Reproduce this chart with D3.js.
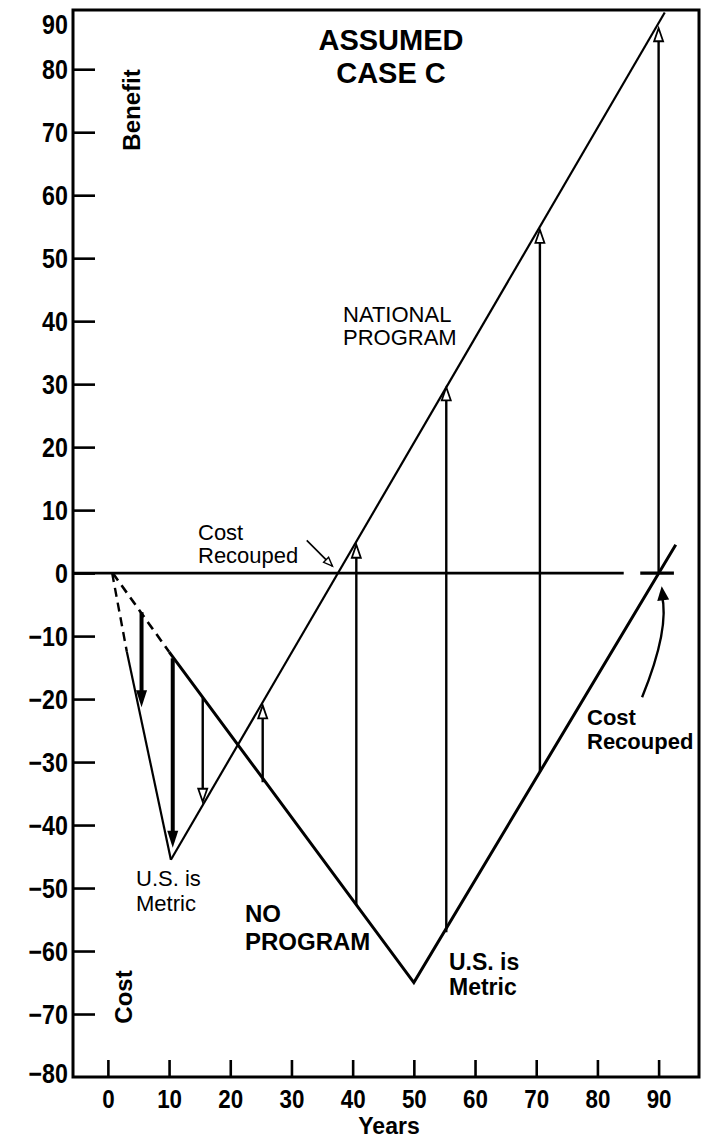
<!DOCTYPE html>
<html><head><meta charset="utf-8">
<script src="https://cdn.jsdelivr.net/npm/d3@7"></script>
<style>
html,body{margin:0;padding:0;background:#fff;}
svg{display:block;}
text{font-family:"Liberation Sans",Arial,Helvetica,sans-serif;fill:#000;}
</style></head>
<body>
<script>
// ---------- data ----------
const yTickValues = [-80,-70,-60,-50,-40,-30,-20,-10,0,10,20,30,40,50,60,70,80,90];
const xTickValues = [0,10,20,30,40,50,60,70,80,90];
const xDomain = [-5.7, 96.6];
const yDomain = [-80, 89.4];

// No program path (years, cost/benefit)
const noProgramDashed = [[0.8,0],[10,-12.5]];
const noProgramSolid  = [[10,-12.5],[50,-65],[92.8,4.5]];
// National program path
const nationalDashed = [[0.7,0],[3.1,-12.5]];
const nationalSteep  = [[3.1,-12.5],[10.3,-45.5]];
const nationalRise   = [[10.3,-45.5],[91,89]];

// Zero line pieces [fromYear, toYear]
const zeroLine = [[-5.7,84.3],[87,92.5]];

// Arrows: year, start value, tip value
const heavyArrows = [[5.5,-6.2,-21.3],[10.6,-13.5,-43.6]];
const lightArrows = [[15.5,-19.8,-36.3],[25.3,-33.2,-21],[40.6,-52.7,4.5],[55.3,-57,29.5],[70.6,-31.5,54.5],[90,0,86.5]];

// Annotation pointers
const recoupPointer = [[32.5,5.2],[36.7,1.1]];
const recoupCurve = [[87.3,-19.7],[91.9,-8.7],[90.5,-2.1]];

// Texts
const titleLines = ["ASSUMED","CASE C"];
const nationalLabel = ["NATIONAL","PROGRAM"];
const noProgramLabel = ["NO","PROGRAM"];
const metricLabel = ["U.S. is","Metric"];
const recoupLabel = ["Cost","Recouped"];

// ---------- drawing ----------
const W = 708, H = 1141;
const svg = d3.select("body").append("svg").attr("width",W).attr("height",H);

const x = d3.scaleLinear().domain(xDomain).range([73,699]);
const y = d3.scaleLinear().domain(yDomain).range([1077,10]);

const line = d3.line().x(d=>x(d[0])).y(d=>y(d[1]));

// frame
svg.append("rect").attr("x",x.range()[0]).attr("y",y.range()[1])
  .attr("width",x.range()[1]-x.range()[0]).attr("height",y.range()[0]-y.range()[1])
  .attr("fill","none").attr("stroke","#000").attr("stroke-width",3);

// y axis
const fmt = d => d<0 ? "\u2212"+Math.abs(d) : String(d);
const yAxis = d3.axisLeft(y).tickValues(yTickValues).tickFormat(fmt)
  .tickSizeInner(-22).tickSizeOuter(0).tickPadding(6);
const gy = svg.append("g").attr("transform",`translate(${x.range()[0]},0)`).call(yAxis);
gy.select(".domain").remove();
gy.selectAll(".tick line").attr("stroke","#000").attr("stroke-width",2.6)
  .attr("display",d=>(d===90||d===-80)?"none":null);
gy.selectAll(".tick text").attr("font-size",27).attr("font-weight","bold")
  .attr("transform","scale(0.86,1)")
  .attr("dy",d=>d===90?"1.0em":d===-80?"0.2em":"0.36em");

// x axis
const xAxis = d3.axisBottom(x).tickValues(xTickValues).tickFormat(fmt)
  .tickSizeInner(-17).tickSizeOuter(0).tickPadding(13);
const gx = svg.append("g").attr("transform",`translate(0,${y.range()[0]})`).call(xAxis);
gx.select(".domain").remove();
gx.selectAll(".tick line").attr("stroke","#000").attr("stroke-width",2.6);
gx.selectAll(".tick text").attr("font-size",26).attr("font-weight","bold")
  .attr("transform","scale(0.86,1)");

// zero line
svg.selectAll(".zero").data(zeroLine).enter().append("line")
  .attr("x1",d=>x(d[0])).attr("x2",d=>x(d[1]))
  .attr("y1",y(0)).attr("y2",y(0))
  .attr("stroke","#000").attr("stroke-width",(d,i)=>i===0?2.6:3.2);

// lines
svg.append("path").attr("d",line(noProgramDashed)).attr("fill","none")
  .attr("stroke","#000").attr("stroke-width",2.6).attr("stroke-dasharray","9,6");
svg.append("path").attr("d",line(nationalDashed)).attr("fill","none")
  .attr("stroke","#000").attr("stroke-width",2.4).attr("stroke-dasharray","9,6");
svg.append("path").attr("d",line(noProgramSolid)).attr("fill","none")
  .attr("stroke","#000").attr("stroke-width",3).attr("stroke-linejoin","miter");
svg.append("path").attr("d",line(nationalSteep)).attr("fill","none")
  .attr("stroke","#000").attr("stroke-width",2.2);
svg.append("path").attr("d",line(nationalRise)).attr("fill","none")
  .attr("stroke","#000").attr("stroke-width",2.2);

// arrowhead helper
function head(tx,ty,dx,dy,len,wid){
  const L=Math.hypot(dx,dy); const ux=dx/L, uy=dy/L;
  const bx=tx-ux*len, by=ty-uy*len;
  const px=-uy*wid/2, py=ux*wid/2;
  return `M${tx},${ty}L${bx+px},${by+py}L${bx-px},${by-py}Z`;
}

// heavy arrows
heavyArrows.forEach(a=>{
  const X=x(a[0]), Y1=y(a[1]), Y2=y(a[2]);
  svg.append("line").attr("x1",X).attr("x2",X).attr("y1",Y1).attr("y2",Y2-(Y2>Y1?10:-10))
    .attr("stroke","#000").attr("stroke-width",4);
  svg.append("path").attr("d",head(X,Y2,0,Y2-Y1,17,11)).attr("fill","#000");
});
// light arrows
lightArrows.forEach(a=>{
  const X=x(a[0]), Y1=y(a[1]), Y2=y(a[2]);
  const dir = Y2>Y1?1:-1;
  svg.append("line").attr("x1",X).attr("x2",X).attr("y1",Y1).attr("y2",Y2-dir*12)
    .attr("stroke","#000").attr("stroke-width",2.4);
  svg.append("path").attr("d",head(X,Y2,0,Y2-Y1,13,9)).attr("fill","#fff")
    .attr("stroke","#000").attr("stroke-width",1.8);
});

// left cost recouped pointer
{
  const p0=recoupPointer[0], p1=recoupPointer[1];
  svg.append("path").attr("d",line(recoupPointer)).attr("stroke","#000").attr("stroke-width",1.6).attr("fill","none");
  svg.append("path").attr("d",head(x(p1[0]),y(p1[1]),x(p1[0])-x(p0[0]),y(p1[1])-y(p0[1]),9,7))
    .attr("fill","#fff").attr("stroke","#000").attr("stroke-width",1.4);
}
// right curved pointer
{
  const c=recoupCurve;
  svg.append("path").attr("d",`M${x(c[0][0])},${y(c[0][1])}Q${x(c[1][0])},${y(c[1][1])} ${x(c[2][0])},${y(c[2][1])+8}`)
    .attr("fill","none").attr("stroke","#000").attr("stroke-width",2.4);
  svg.append("path").attr("d",head(x(c[2][0]),y(c[2][1]),x(c[2][0])-x(c[1][0])+4,y(c[2][1])-y(c[1][1]),14,12))
    .attr("fill","#000");
}

// text helper
function label(lines,x0,y0,lh,size,weight,anchor){
  const t=svg.append("text").attr("font-size",size).attr("font-weight",weight)
    .attr("text-anchor",anchor||"start");
  lines.forEach((s,i)=>t.append("tspan").attr("x",x0).attr("y",y0+i*lh).text(s));
  return t;
}
label(titleLines,391,50,33,29,"bold","middle");
label(nationalLabel,343,322,23,22,"normal");
label(recoupLabel,198,540,23,22,"normal");
label(metricLabel,136,886,25,22,"normal");
label(noProgramLabel,245,922,28,24,"bold");
label(metricLabel,449,970,25,23,"bold");
label(recoupLabel,587,725,24,22,"bold");

svg.append("text").attr("transform","translate(140,110) rotate(-90)")
  .attr("text-anchor","middle").attr("font-size",24).attr("font-weight","bold").text("Benefit");
svg.append("text").attr("transform","translate(132,997) rotate(-90)")
  .attr("text-anchor","middle").attr("font-size",24).attr("font-weight","bold").text("Cost");
svg.append("text").attr("x",389).attr("y",1134).attr("text-anchor","middle")
  .attr("font-size",23).attr("font-weight","bold").text("Years");
</script>
</body></html>
